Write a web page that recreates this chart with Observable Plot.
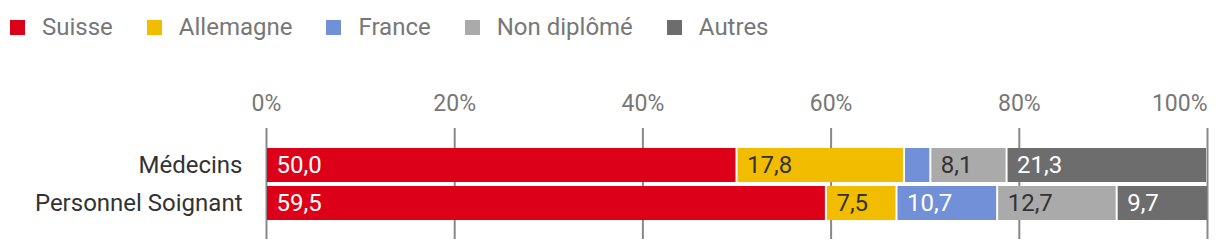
<!DOCTYPE html>
<html>
<head>
<meta charset="utf-8">
<script src="https://cdn.jsdelivr.net/npm/d3@7"></script>
<script src="https://cdn.jsdelivr.net/npm/@observablehq/plot@0.6"></script>
<style>
  html, body { margin: 0; padding: 0; background: #fff; }
  body { width: 1220px; height: 252px; overflow: hidden; font-family: Roboto, sans-serif; }
  #legend { height: 52px; box-sizing: border-box; padding-top: 15px; padding-left: 10px; display: flex; align-items: flex-start; }
  .item { display: flex; align-items: center; margin-right: 34px; font-size: 24px; color: #777; line-height: 24px; height: 24px; }
  .sw { width: 15px; height: 15px; margin-right: 17px; }
</style>
</head>
<body>
<div id="legend"></div>
<div id="chart"></div>
<script>
const categories = ["Médecins", "Personnel Soignant"];
const origins = ["Suisse", "Allemagne", "France", "Non diplômé", "Autres"];
const medecins = [50.0, 17.8, 2.8, 8.1, 21.3];
const soignant = [59.5, 7.5, 10.7, 12.7, 9.7];
const colors = ["#dc0018", "#f2bd00", "#7290d7", "#aaaaaa", "#6d6d6d"];
const labelColors = ["#fff", "#333", "#fff", "#333", "#fff"];
const xTicks = [0, 20, 40, 60, 80, 100];

const data = [];
[medecins, soignant].forEach((vals, i) => {
  vals.forEach((v, j) => data.push({cat: categories[i], origin: origins[j], value: v, label: labelColors[j]}));
});

const fmt = v => d3.format(".1f")(v).replace(".", ",");

const legend = document.getElementById("legend");
origins.forEach((o, i) => {
  const it = document.createElement("div");
  it.className = "item";
  const sw = document.createElement("div");
  sw.className = "sw";
  sw.style.background = colors[i];
  it.appendChild(sw);
  const t = document.createElement("span");
  t.textContent = o;
  it.appendChild(t);
  legend.appendChild(it);
});

const labelFor = c => d => (d.value >= 5 && d.label === c) ? fmt(d.value) : "";

const chart = Plot.plot({
  width: 1220,
  height: 200,
  marginLeft: 266,
  marginRight: 13,
  marginTop: 76,
  marginBottom: 13,
  style: {fontFamily: "Roboto, sans-serif", fontSize: "24px", background: "#fff"},
  x: {domain: [0, 100]},
  y: {domain: categories, paddingInner: 0.1053, paddingOuter: 0.513},
  color: {domain: origins, range: colors},
  marks: [
    Plot.ruleX(xTicks, {stroke: "#888", strokeWidth: 2, strokeOpacity: 1}),
    Plot.axisX(xTicks.filter(t => t < 100), {anchor: "top", tickSize: 0, tickPadding: 18, tickFormat: d => d + "%", fill: "#777", fontSize: 23, label: null}),
    Plot.axisX(xTicks.filter(t => t === 100), {anchor: "top", tickSize: 0, tickPadding: 18, tickFormat: d => d + "%", fill: "#777", fontSize: 23, textAnchor: "end", label: null}),
    Plot.axisY({anchor: "left", tickSize: 0, tickPadding: 24, fill: "#333", fontSize: 24, label: null}),
    Plot.barX(data, Plot.stackX({x: "value", y: "cat", fill: "origin", insetLeft: 1, insetRight: 1})),
    Plot.text(data, Plot.stackX1({x: "value", y: "cat", z: "origin", text: labelFor("#fff"), textAnchor: "start", dx: 10, fill: "#fff", fontSize: 24})),
    Plot.text(data, Plot.stackX1({x: "value", y: "cat", z: "origin", text: labelFor("#333"), textAnchor: "start", dx: 10, fill: "#333", fontSize: 24}))
  ]
});
document.getElementById("chart").appendChild(chart);
</script>
</body>
</html>
